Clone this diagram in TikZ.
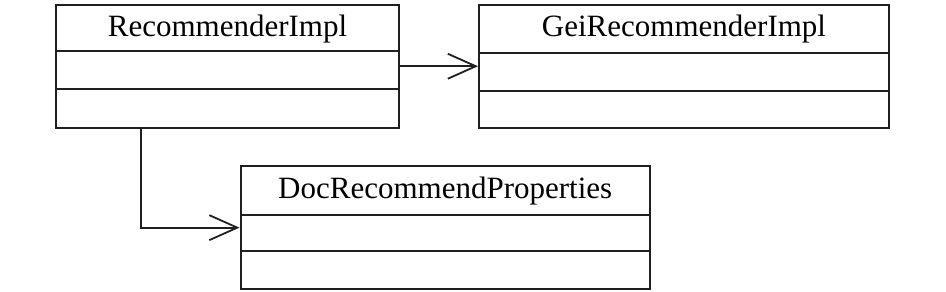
\documentclass[tikz,border=0pt]{standalone}
\usepackage{fontspec}
\setmainfont{Liberation Serif}
\usetikzlibrary{arrows.meta,calc}
\begin{document}
\begin{tikzpicture}[x=1pt,y=-1pt,
  cls/.style={draw=black!88, line width=2pt, inner sep=0pt},
  divider/.style={draw=black!88, line width=2pt},
  title/.style={font=\fontsize{31}{32}\selectfont, inner sep=0pt, anchor=base},
  link/.style={draw=black!88, line width=1.7pt, -{Straight Barb[length=28pt,width=25pt,line width=1.8pt]}}]
\useasboundingbox (0,0) rectangle (946,292);
% RecommenderImpl
\node[cls, minimum width=343pt, minimum height=122.5pt] (r) at (227.5,66.25) {};
\draw[divider] ($(r.north west)+(0,47)$) -- ($(r.north east)+(0,47)$);
\draw[divider] ($(r.north west)+(0,85)$) -- ($(r.north east)+(0,85)$);
\node[title] (rt) at ($(r.north)+(0,32)$) {RecommenderImpl};
% GeiRecommenderImpl
\node[cls, minimum width=410pt, minimum height=122.5pt] (g) at (684,66.25) {};
\draw[divider] ($(g.north west)+(0,48.5)$) -- ($(g.north east)+(0,48.5)$);
\draw[divider] ($(g.north west)+(0,87)$) -- ($(g.north east)+(0,87)$);
\node[title] (gt) at ($(g.north)+(0,32)$) {GeiRecommenderImpl};
% DocRecommendProperties
\node[cls, minimum width=409.5pt, minimum height=123.3pt] (d) at (445.25,227.65) {};
\draw[divider] ($(d.north west)+(0,49.7)$) -- ($(d.north east)+(0,49.7)$);
\draw[divider] ($(d.north west)+(0,86)$) -- ($(d.north east)+(0,86)$);
\node[title] (dt) at ($(d.north)+(0,33.3)$) {DocRecommendProperties};
% connectors
\draw[link] (r.east) -- (g.west);
\draw[link] ([xshift=-86.8pt]r.south) |- (d.west);
\end{tikzpicture}
\end{document}
